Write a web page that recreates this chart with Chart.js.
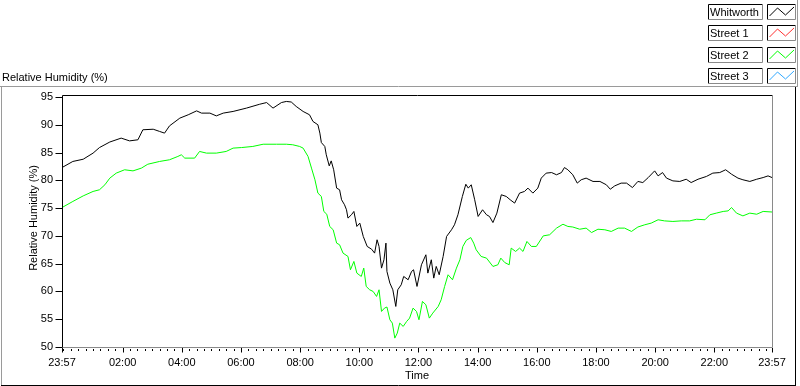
<!DOCTYPE html>
<html>
<head>
<meta charset="utf-8">
<script src="https://cdn.jsdelivr.net/npm/chart.js@4.4.0/dist/chart.umd.min.js"></script>
<style>
html,body{margin:0;padding:0;background:#fff;overflow:hidden}
#wrap{position:relative;width:800px;height:386px}
canvas{display:block}
</style>
</head>
<body>
<div id="wrap"><canvas id="c" width="800" height="386"></canvas></div>
<script>
// ---- data (time in minutes after 00:00; start is 23:57 of previous day) ----
const whitworthTimes = [-3,19,40,60,73,94,117,134,151,161,182,195,205,215,236,253,270,280,297,310,324,344,371,398,412,425,442,452,462,472,486,499,506,516,520,523,530,533,539,543,548,554,560,564,570,574,577,584,589,595,601,608,616,625,631,636,640,645,650,654,656,662,668,674,678,685,690,699,706,710,717,726,735,739,746,751,756,762,770,777,787,793,800,809,816,821,827,834,841,850,858,864,871,879,888,898,906,915,925,935,942,952,962,969,979,990,1000,1010,1016,1023,1033,1042,1050,1060,1074,1088,1101,1109,1118,1131,1142,1154,1165,1175,1186,1199,1206,1215,1223,1236,1250,1263,1273,1287,1304,1317,1331,1343,1355,1368,1378,1392,1406,1419,1429,1437];
const whitworthRH = [82.3,83.4,83.8,84.9,85.9,86.9,87.6,87.1,87.3,89.1,89.2,88.8,88.5,89.8,91.2,91.8,92.5,92.1,92.1,91.6,92.1,92.4,93.0,93.7,94.0,93.0,94.0,94.2,94.1,93.3,92.4,91.8,90.6,90.0,88.5,86.8,86.1,84.6,82.6,83.5,81.9,78.6,78.3,76.5,75.6,74.7,73.2,73.8,74.4,71.7,72.3,69.9,68.1,67.6,66.9,69.3,68.1,64.2,65.7,68.7,63.6,61.5,60.3,57.3,60.3,61.2,62.7,62.1,63.6,63.9,60.9,64.8,66.6,63.3,65.7,62.4,64.5,63.0,66.3,69.9,71.1,72.0,73.8,77.1,79.3,78.6,79.2,76.5,73.5,74.7,73.8,73.5,72.4,74.1,77.4,77.1,76.5,75.9,77.7,78.0,78.6,77.7,78.6,80.4,81.3,81.4,81.0,81.4,82.3,81.9,81.0,79.5,80.1,80.4,79.8,79.8,79.2,78.4,79.0,79.5,79.5,78.7,79.8,79.6,80.5,81.7,80.8,81.4,80.4,79.9,79.8,80.2,79.6,80.2,80.7,81.3,81.4,81.9,81.1,80.4,80.1,79.8,80.2,80.5,80.8,80.5];

const street2Times = [-3,19,40,60,73,84,94,107,124,141,158,171,195,215,232,239,246,266,276,290,310,330,344,361,384,405,432,452,465,479,486,496,503,510,516,523,528,534,540,547,554,560,567,577,582,589,595,604,609,614,621,628,635,640,645,651,656,662,667,672,677,682,689,696,702,709,716,721,728,735,742,749,760,766,773,780,789,797,804,810,817,826,832,837,847,858,871,881,887,895,904,908,917,925,932,940,949,959,973,986,1000,1013,1023,1033,1047,1060,1071,1084,1098,1111,1125,1138,1152,1165,1179,1192,1206,1219,1236,1253,1270,1284,1301,1311,1324,1338,1348,1355,1365,1378,1392,1406,1419,1437];
const street2RH = [75.1,76.2,77.2,78.0,78.3,79.2,80.4,81.3,81.9,81.7,82.2,82.9,83.4,83.7,84.3,84.6,84.0,84.0,85.2,84.9,84.9,85.2,85.8,85.9,86.1,86.5,86.5,86.5,86.4,86.1,85.8,84.3,82.2,80.1,77.7,77.1,74.4,73.9,71.7,71.1,68.7,68.4,66.9,66.3,63.9,65.4,63.3,62.7,64.2,60.9,60.3,60.0,59.1,60.3,56.4,57.0,57.2,54.9,54.3,51.6,52.5,54.3,53.7,54.6,55.2,57.0,56.4,54.9,58.2,57.6,55.2,56.1,57.3,58.5,60.9,63.0,62.1,64.2,65.7,68.1,69.2,69.7,68.7,67.5,66.3,66.0,64.5,64.8,66.0,65.2,64.8,67.8,67.2,67.8,67.2,69.0,68.1,68.1,70.0,70.2,71.4,72.1,71.7,71.6,71.2,71.4,70.6,71.2,71.1,70.8,71.4,71.4,70.8,71.6,72.0,72.3,72.9,72.7,72.6,72.7,72.7,73.0,72.9,73.8,74.1,74.4,74.5,75.1,74.1,73.6,74.1,73.9,74.4,74.3];

const yTicks = [50,55,60,65,70,75,80,85,90,95];
const xMajorTimes = [-3,120,240,360,480,600,720,840,960,1080,1200,1320,1437];
const xMajorLabels = ["23:57","02:00","04:00","06:00","08:00","10:00","12:00","14:00","16:00","18:00","20:00","22:00","23:57"];
const xMinorTimes = Array.from({length:96},(_,i)=>i*15);

const legendNames = ["Whitworth","Street 1","Street 2","Street 3"];
const legendColors = ["#000000","#ff3030","#00ff00","#30a8ff"];

const titleText = "Relative Humidity (%)";
const yTitle = "Relative Humidity (%)";
const xTitle = "Time";

// ---- chart ----
const FONT = '"Liberation Sans", Arial, sans-serif';
const labelMap = {};
xMajorTimes.forEach((t,i)=>{labelMap[t]=xMajorLabels[i];});
const allXTicks = Array.from(new Set([...xMajorTimes, ...xMinorTimes])).sort((a,b)=>a-b);

function pts(ts, vs){ return ts.map((t,i)=>({x:t,y:vs[i]})); }

const framePlugin = {
  id:'frame',
  afterDraw(chart){
    const ctx = chart.ctx;
    const a = chart.chartArea;
    const xs = chart.scales.x, ys = chart.scales.y;
    const L = Math.round(a.left)+0.5, R = Math.round(a.right)+0.5, T = Math.round(a.top)+0.5, B = Math.round(a.bottom)+0.5;
    ctx.save();
    ctx.lineWidth = 1;
    // outer panel
    ctx.strokeStyle = '#9a9a9a';
    ctx.beginPath(); ctx.moveTo(0,86.5); ctx.lineTo(797,86.5); ctx.stroke();
    ctx.beginPath(); ctx.moveTo(1.5,86.5); ctx.lineTo(1.5,385); ctx.stroke();
    ctx.beginPath(); ctx.moveTo(797.5,0); ctx.lineTo(797.5,87); ctx.stroke();
    ctx.strokeStyle = '#000';
    ctx.beginPath(); ctx.moveTo(1,385.5); ctx.lineTo(796,385.5); ctx.stroke();
    ctx.beginPath(); ctx.moveTo(795.5,87); ctx.lineTo(795.5,386); ctx.stroke();
    // plot border
    ctx.strokeStyle = '#000';
    ctx.beginPath(); ctx.moveTo(L,B); ctx.lineTo(L,T); ctx.lineTo(R,T); ctx.stroke();
    ctx.strokeStyle = '#8a8a8a';
    ctx.beginPath(); ctx.moveTo(R,T); ctx.lineTo(R,B); ctx.lineTo(L,B); ctx.stroke();
    // y ticks
    ctx.strokeStyle = '#000';
    yTicks.forEach(v=>{
      const y = Math.round(ys.getPixelForValue(v))+0.5;
      ctx.beginPath(); ctx.moveTo(L-7,y); ctx.lineTo(L,y); ctx.stroke();
    });
    // x ticks
    allXTicks.forEach(t=>{
      const x = Math.round(xs.getPixelForValue(t))+0.5;
      const major = (t in labelMap);
      ctx.beginPath(); ctx.moveTo(x,B+ (major?0.5:1.5)); ctx.lineTo(x,B+(major?5:3.5)); ctx.stroke();
    });
    // titles
    ctx.fillStyle = '#000';
    ctx.font = '11px '+FONT;
    ctx.textAlign = 'left'; ctx.textBaseline = 'alphabetic';
    ctx.fillText(titleText, 2, 81);
    ctx.textAlign = 'center';
    ctx.fillText(xTitle, (a.left+a.right)/2, 379);
    ctx.save();
    ctx.translate(37, (a.top+a.bottom)/2-3);
    ctx.rotate(-Math.PI/2);
    ctx.textBaseline = 'alphabetic';
    ctx.fillText(yTitle, 0, 0);
    ctx.restore();
    // legend
    const tops = [4,25,47,68];
    legendNames.forEach((name,i)=>{
      const top = tops[i];
      const h = 15;
      // text box
      box(ctx, 708.5, top+0.5, 54, h);
      ctx.fillStyle = '#000';
      ctx.textAlign = 'left'; ctx.textBaseline = 'alphabetic';
      ctx.fillText(name, 710, top+12);
      // sample box
      box(ctx, 767.5, top+0.5, 28, h);
      ctx.strokeStyle = legendColors[i];
      ctx.beginPath();
      ctx.moveTo(769.5, top+12); ctx.lineTo(777.5, top+4); ctx.lineTo(785.5, top+11); ctx.lineTo(794, top+3);
      ctx.stroke();
    });
    ctx.restore();
  }
};
function box(ctx,x,y,w,h){
  ctx.fillStyle='#fff'; ctx.fillRect(x,y,w,h);
  ctx.strokeStyle='#000';
  ctx.beginPath(); ctx.moveTo(x,y+h); ctx.lineTo(x,y); ctx.lineTo(x+w,y); ctx.stroke();
  ctx.strokeStyle='#8a8a8a';
  ctx.beginPath(); ctx.moveTo(x+w,y); ctx.lineTo(x+w,y+h); ctx.lineTo(x,y+h); ctx.stroke();
}

new Chart(document.getElementById('c'), {
  type:'line',
  data:{
    datasets:[
      {label:legendNames[0], data:pts(whitworthTimes,whitworthRH), borderColor:legendColors[0], borderWidth:1, pointRadius:0, tension:0, fill:false},
      {label:legendNames[2], data:pts(street2Times,street2RH), borderColor:legendColors[2], borderWidth:1, pointRadius:0, tension:0, fill:false}
    ]
  },
  options:{
    responsive:false, animation:false, devicePixelRatio:1,
    layout:{padding:{left:0,top:95,right:28,bottom:0}},
    plugins:{legend:{display:false}, tooltip:{enabled:false}, title:{display:false}},
    scales:{
      x:{type:'linear', min:-3, max:1437,
        afterBuildTicks(s){ s.ticks = allXTicks.map(v=>({value:v})); },
        afterFit(s){ s.height = 39; },
        grid:{display:false, drawTicks:false}, border:{display:false},
        ticks:{autoSkip:false, maxRotation:0, minRotation:0, padding:9, color:'#000', font:{family:FONT,size:11},
          callback:(v)=> (v in labelMap) ? labelMap[v] : ''}
      },
      y:{type:'linear', min:50, max:95.36,
        afterBuildTicks(s){ s.ticks = yTicks.map(v=>({value:v})); },
        afterFit(s){ s.width = 62; },
        grid:{display:false, drawTicks:false}, border:{display:false},
        ticks:{padding:9, color:'#000', font:{family:FONT,size:11}}
      }
    }
  },
  plugins:[framePlugin]
});
</script>
</body>
</html>
